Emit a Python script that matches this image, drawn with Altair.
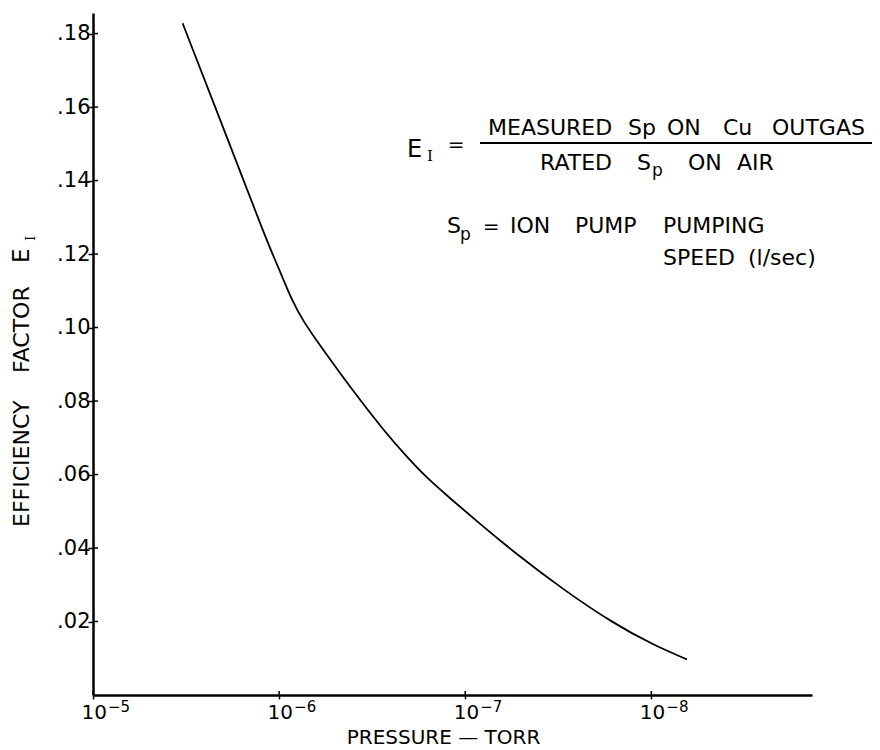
import altair as alt
import pandas as pd

# ---- data ----
pressure_torr = [3.30e-6, 1.91e-6, 1.17e-6, 1.05e-6, 9.46e-7, 8.53e-7, 7.53e-7,
                 6.01e-7, 4.69e-7, 3.74e-7, 2.75e-7, 2.06e-7, 1.61e-7, 1.21e-7,
                 8.30e-8, 5.51e-8, 2.96e-8, 1.60e-8, 9.75e-9, 6.44e-9]
efficiency = [0.1828, 0.1519, 0.1238, 0.1184, 0.1129, 0.1075, 0.1022,
              0.0950, 0.0875, 0.0808, 0.0721, 0.0648, 0.0591, 0.0536,
              0.0465, 0.0390, 0.0286, 0.0195, 0.0136, 0.0097]

x_tick_values = [1e-5, 1e-6, 1e-7, 1e-8]
x_tick_base = "10"
x_tick_exponents = ["−5", "−6", "−7", "−8"]
y_tick_values = [0.02, 0.04, 0.06, 0.08, 0.10, 0.12, 0.14, 0.16, 0.18]
y_tick_labels = [".02", ".04", ".06", ".08", ".10", ".12", ".14", ".16", ".18"]
x_domain = [1.37e-9, 1e-5]
y_domain = [0, 0.1856]

W, H = 719, 682
FONT = "DejaVu Sans"
SERIF = "DejaVu Serif"

df = pd.DataFrame({"pressure": pressure_torr, "eff": efficiency})
df_xt = pd.DataFrame({"pressure": x_tick_values, "exp": x_tick_exponents})
df_yt = pd.DataFrame({"eff": y_tick_values})


def lin_label_expr(values, labels):
    expr = "''"
    for v, l in reversed(list(zip(values, labels))):
        expr = f"abs(datum.value - {v}) < 0.001 ? '{l}' : ({expr})"
    return expr


xscale = alt.Scale(type="log", domain=x_domain, reverse=True, nice=False)
yscale = alt.Scale(domain=y_domain, nice=False, zero=False)

x_axis = alt.Axis(
    values=x_tick_values, labelExpr=f"'{x_tick_base}'",
    title="PRESSURE — TORR", titleX=350, titleY=48, titleAlign="center",
    titleBaseline="alphabetic", titleFontSize=20, titleFontWeight="normal",
    titleFont=FONT, titleColor="black",
    grid=False, domainColor="black", domainWidth=2.5, tickColor="black",
    tickWidth=1.5, tickSize=4, labelFont=FONT, labelFontSize=20,
    labelColor="black", labelAlign="left", labelOffset=-12,
    labelBaseline="top", labelPadding=3, labelOverlap=False, labelFlush=False,
    labelBound=False,
)
y_axis = alt.Axis(
    values=y_tick_values, labelExpr=lin_label_expr(y_tick_values, y_tick_labels),
    title="", grid=False, domainColor="black", domainWidth=2.5,
    tickColor="black", tickWidth=1.5, tickSize=5, labelFont=FONT,
    labelFontSize=21, labelColor="black", labelAlign="right",
    labelBaseline="middle", labelPadding=-2, labelOverlap=False,
    labelFlush=False, labelBound=False,
)

xs = alt.X("pressure:Q", scale=xscale, axis=x_axis)
ys = alt.Y("eff:Q", scale=yscale, axis=y_axis)

curve = alt.Chart(df).mark_line(
    color="black", strokeWidth=1.8, interpolate="basis"
).encode(x=xs, y=ys)

# inner halves of the crossing tick marks
y_ticks_in = alt.Chart(df_yt).mark_rule(color="black", strokeWidth=1.5).encode(
    y=ys, x=alt.value(0), x2=alt.value(5)
)
x_ticks_in = alt.Chart(df_xt).mark_rule(color="black", strokeWidth=1.5).encode(
    x=xs, y=alt.value(H - 4), y2=alt.value(H)
)
# exponents of the x tick labels
x_exponents = alt.Chart(df_xt).mark_text(
    align="left", baseline="top", dx=15, fontSize=15, font=FONT, color="black"
).encode(x=xs, y=alt.value(H + 5), text="exp:N")


def txt(s, x, y, size=22, font=FONT, angle=0, align="left"):
    return alt.Chart(pd.DataFrame({"t": [s]})).mark_text(
        align=align, baseline="middle", fontSize=size, font=font,
        angle=angle, color="black"
    ).encode(text="t:N", x=alt.value(x), y=alt.value(y))


annotations = [
    # E_I = fraction
    txt("E", 314, 137, size=24),
    txt("I", 334, 143, size=15, font=SERIF),
    txt("=", 363, 132, size=20, align="center"),
    txt("MEASURED", 395, 115),
    txt("Sp", 535, 115),
    txt("ON", 574, 115),
    txt("Cu", 630, 115),
    txt("OUTGAS", 679, 115),
    txt("RATED", 447, 150),
    txt("S", 544, 150),
    txt("p", 559, 158, size=17),
    txt("ON", 595, 150),
    txt("AIR", 644, 150),
    # Sp definition
    txt("S", 354, 213),
    txt("p", 367, 222, size=17),
    txt("=", 398, 214, size=20, align="center"),
    txt("ION", 417, 213),
    txt("PUMP", 482, 213),
    txt("PUMPING", 570, 213),
    txt("SPEED", 570, 245),
    txt("(l/sec)", 655, 245),
    # y-axis title (rotated)
    txt("EFFICIENCY", -71.5, 514, size=22, angle=270),
    txt("FACTOR", -71.5, 360, size=22, angle=270),
    txt("E", -71.5, 250, size=23, angle=270),
    txt("I", -62.5, 228, size=13, font=SERIF, angle=270),
]

fraction_bar = alt.Chart(pd.DataFrame({"a": [0]})).mark_rule(
    color="black", strokeWidth=2
).encode(x=alt.value(387), x2=alt.value(779), y=alt.value(130))

chart = alt.layer(
    curve, y_ticks_in, x_ticks_in, x_exponents, fraction_bar, *annotations
).properties(
    width=W, height=H,
    padding={"left": 85, "top": 5, "right": 60, "bottom": 53},
    autosize=alt.AutoSizeParams(type="none"),
).configure(background="white").configure_view(stroke=None)

chart.save("out.html", embed_options={"renderer": "svg", "actions": False})
